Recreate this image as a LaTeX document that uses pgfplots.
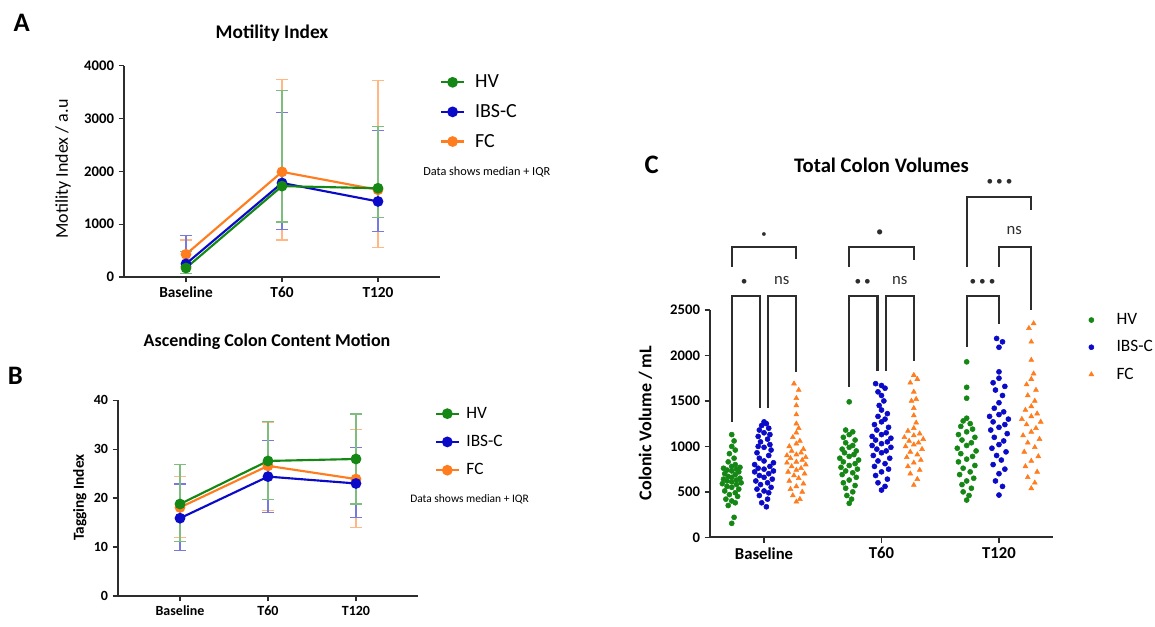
\documentclass[border=0pt]{standalone}
\usepackage{pgfplots}
\pgfplotsset{compat=1.18}
\usepackage{fontspec}
\setmainfont{Carlito}
\definecolor{HVc}{RGB}{20,135,20}
\definecolor{IBSc}{RGB}{10,10,200}
\definecolor{FCc}{RGB}{255,125,30}
\definecolor{axc}{RGB}{45,45,45}
\pgfplotsset{
 panel/.style={
  scale only axis, axis lines=left, axis line style={-, axc, line width=1.3pt},
  tick style={axc, line width=1pt}, tick align=outside, major tick length=4pt,
  xtick={0,1,2}, xticklabels={Baseline,T60,T120},
  /pgf/number format/assume math mode=true, /pgf/number format/1000 sep={},
  scaled y ticks=false, clip=false,
  legend cell align=left,
 },
 eb/.style={error bars/.cd, y dir=both, y explicit,
  error bar style={#1!55, line width=0.9pt},
  error mark options={rotate=90, #1!55, mark size=4.2pt, line width=0.9pt}},
}
\begin{document}
\begin{tikzpicture}
\useasboundingbox (0,0) rectangle (866.25pt,469.5pt);
% ---------------- Panel A ----------------
\node[font=\bfseries\fontsize{20}{22}\selectfont] at (16.3pt,452pt) {A};
\node[font=\bfseries\fontsize{14.5}{16}\selectfont] at (204pt,444.75pt) {Motility Index};
\node[anchor=west, font=\fontsize{9.2}{10}\selectfont, inner sep=0pt] at (317.25pt,340.5pt) {Data shows median + IQR};
\begin{axis}[panel, at={(93pt,261.75pt)}, anchor=south west, width=237pt, height=158.5pt,
 xmin=-0.646, xmax=2.646, ymin=0, ymax=4000, ytick={0,1000,2000,3000,4000},
 ylabel={Motility Index / a.u},
 ylabel style={at={(rel axis cs:-0.193,0.511)}, anchor=center, font=\fontsize{13.5}{14}\selectfont},
 xticklabel style={font=\bfseries\fontsize{11.5}{12}\selectfont},
 yticklabel style={font=\bfseries\fontsize{11}{12}\selectfont},
 legend style={at={(0.987,0.781)}, anchor=west, draw=none, fill=none, font=\fontsize{15}{15}\selectfont, row sep=7pt,
  /tikz/every odd column/.append style={column sep=5.5pt}},
 reverse legend]
\addplot[FCc, line width=1.6pt, mark=*, mark size=3.2pt, eb=FCc] coordinates {
 (0,430) += (0,270) -= (0,230)
 (1,1990) += (0,1754) -= (0,1290)
 (2,1650) += (0,2070) -= (0,1090)};
\addlegendentry{FC}
\addplot[IBSc, line width=1.6pt, mark=*, mark size=3.2pt, eb=IBSc] coordinates {
 (0,250) += (0,540) -= (0,190)
 (1,1780) += (0,1330) -= (0,877)
 (2,1430) += (0,1340) -= (0,572)};
\addlegendentry{IBS-C}
\addplot[HVc, line width=1.6pt, mark=*, mark size=3.2pt, eb=HVc] coordinates {
 (0,170) += (0,310) -= (0,110)
 (1,1720) += (0,1810) -= (0,680)
 (2,1680) += (0,1170) -= (0,550)};
\addlegendentry{HV}
\end{axis}
% ---------------- Panel B ----------------
\node[font=\bfseries\fontsize{20}{22}\selectfont] at (11.6pt,187.5pt) {B};
\node[font=\bfseries\fontsize{13.5}{15}\selectfont] at (200.25pt,213pt) {Ascending Colon Content Motion};
\node[anchor=west, font=\fontsize{8.6}{10}\selectfont, inner sep=0pt] at (307.5pt,95.25pt) {Data shows median + IQR};
\begin{axis}[panel, at={(88.5pt,22.5pt)}, anchor=south west, width=225pt, height=146.8pt,
 xmin=-0.705, xmax=2.705, ymin=0, ymax=40, ytick={0,10,20,30,40},
 ylabel={Tagging Index},
 ylabel style={at={(rel axis cs:-0.127,0.503)}, anchor=center, font=\bfseries\fontsize{11.5}{12}\selectfont},
 xticklabel style={font=\bfseries\fontsize{10.5}{12}\selectfont},
 yticklabel style={font=\bfseries\fontsize{10.5}{12}\selectfont},
 legend style={at={(1.042,0.787)}, anchor=west, draw=none, fill=none, font=\fontsize{13}{13}\selectfont, row sep=7.3pt,
  /tikz/every odd column/.append style={column sep=3pt}},
 reverse legend]
\addplot[FCc, line width=1.6pt, mark=*, mark size=3.2pt, eb=FCc] coordinates {
 (0,18.1) += (0,6.3) -= (0,6.1)
 (1,26.6) += (0,8.9) -= (0,9.2)
 (2,23.9) += (0,10.1) -= (0,9.9)};
\addlegendentry{FC}
\addplot[IBSc, line width=1.6pt, mark=*, mark size=3.2pt, eb=IBSc] coordinates {
 (0,15.9) += (0,7.0) -= (0,6.6)
 (1,24.4) += (0,7.4) -= (0,7.3)
 (2,23.0) += (0,7.3) -= (0,7.0)};
\addlegendentry{IBS-C}
\addplot[HVc, line width=1.6pt, mark=*, mark size=3.2pt, eb=HVc] coordinates {
 (0,18.8) += (0,8.0) -= (0,7.7)
 (1,27.6) += (0,8.0) -= (0,7.8)
 (2,28.0) += (0,9.2) -= (0,9.2)};
\addlegendentry{HV}
\end{axis}
% ---------------- Panel C ----------------
\node[font=\bfseries\fontsize{20}{22}\selectfont] at (488.8pt,345.75pt) {C};
\node[font=\bfseries\fontsize{15.5}{17}\selectfont] at (661.1pt,345.75pt) {Total Colon Volumes};
\begin{axis}[panel, at={(532.5pt,66.5pt)}, anchor=south west, width=257.25pt, height=170.5pt,
 xmin=-0.46, xmax=2.46, ymin=0, ymax=2500, ytick={0,500,1000,1500,2000,2500},
 ylabel={Colonic Volume / mL},
 ylabel style={at={(rel axis cs:-0.188,0.503)}, anchor=center, font=\bfseries\fontsize{13.5}{14}\selectfont},
 xticklabel style={font=\bfseries\fontsize{12.5}{13}\selectfont},
 yticklabel style={font=\bfseries\fontsize{11}{12}\selectfont},
 legend style={at={(1.092,0.836)}, anchor=west, draw=none, fill=none, font=\fontsize{13}{13}\selectfont, row sep=6.5pt,
  /tikz/every odd column/.append style={column sep=15pt}}]
% Baseline
\addplot[only marks, mark=*, mark size=1.9pt, HVc] table[x expr={\thisrow{d}-0.275}, y=y] {
d y
0 154
0.02 220
-0.03 350
0.03 380
0 400
-0.05 420
0.05 450
-0.02 470
0.03 490
-0.06 510
0.06 530
0 550
-0.04 560
0.04 580
-0.08 590
0.08 600
0 610
-0.04 620
0.04 630
-0.07 640
0.07 650
0 660
-0.03 670
0.03 690
-0.06 700
0.06 720
0 730
-0.04 740
0.04 750
-0.07 760
0.07 770
0 780
0.03 800
-0.03 830
0.02 870
-0.02 920
0.03 960
0 1000
0.02 1060
0 1130
};
\addlegendentry{HV}
\addplot[only marks, mark=*, mark size=1.9pt, IBSc] table[x expr={\thisrow{d}}, y=y] {
d y
0.02 336
-0.02 380
0.03 420
-0.04 460
0.04 490
0 510
-0.06 530
0.06 550
-0.03 580
0.03 600
-0.07 620
0.07 640
0 660
-0.04 680
0.04 700
-0.08 720
0.08 730
0 750
-0.05 760
0.05 780
-0.08 800
0.08 820
0 840
-0.04 870
0.04 900
-0.06 930
0.06 960
0 990
-0.05 1000
0.05 1020
-0.03 1050
0.03 1080
-0.05 1110
0.05 1130
0 1150
-0.04 1180
0.04 1200
-0.02 1230
0.02 1250
0 1270
};
\addlegendentry{IBS-C}
\addplot[only marks, mark=triangle*, mark size=2.1pt, FCc] table[x expr={\thisrow{d}+0.275}, y=y] {
d y
0 391
0.03 420
-0.03 460
0.05 500
-0.05 530
0 560
0.06 590
-0.06 620
0.02 650
-0.02 680
0.07 700
-0.07 720
0 740
0.04 760
-0.04 780
0.08 800
-0.08 820
0 830
0.05 850
-0.05 870
0.08 880
-0.08 900
0 910
0.04 930
-0.04 950
0.06 970
-0.06 1000
0 1030
0.03 1060
-0.03 1100
0 1150
0.02 1200
0 1250
0 1350
0 1450
0 1530
0.02 1620
-0.02 1690
};
\addlegendentry{FC}
% T60
\addplot[only marks, mark=*, mark size=1.9pt, HVc, forget plot] table[x expr={\thisrow{d}+0.725}, y=y] {
d y
0 374
0.02 420
-0.02 460
0.03 500
-0.03 540
0.05 570
-0.05 600
0 630
0.06 660
-0.06 690
0.03 710
-0.03 730
0.07 750
-0.07 770
0 790
0.05 810
-0.05 830
0.08 850
-0.08 870
0 890
0.04 910
-0.04 930
0.06 950
-0.06 970
0 990
0.03 1010
-0.03 1040
0.05 1070
-0.05 1100
0 1130
0.03 1160
-0.03 1180
0 1490
};
\addplot[only marks, mark=*, mark size=1.9pt, IBSc, forget plot] table[x expr={\thisrow{d}+1}, y=y] {
d y
0 520
0.03 560
-0.03 600
0.05 640
-0.05 680
0 720
0.06 750
-0.06 780
0.03 810
-0.03 840
0.07 870
-0.07 900
0 930
0.04 950
-0.04 970
0.08 990
-0.08 1010
0 1030
0.05 1050
-0.05 1070
0.08 1090
-0.08 1110
0 1130
0.04 1150
-0.04 1180
0.06 1210
-0.06 1240
0 1270
0.03 1300
-0.03 1330
0.05 1360
0 1400
-0.02 1450
0.02 1500
0 1560
-0.03 1600
0.03 1640
0 1670
-0.05 1690
};
\addplot[only marks, mark=triangle*, mark size=2.1pt, FCc, forget plot] table[x expr={\thisrow{d}+1.275}, y=y] {
d y
0 575
0.03 640
-0.03 700
0.05 740
-0.05 780
0 820
0.06 850
-0.06 880
0.03 910
-0.03 940
0.07 970
-0.07 1000
0 1020
0.04 1040
-0.04 1060
0.08 1080
-0.08 1100
0 1120
0.05 1140
-0.05 1170
0 1200
0.02 1260
0 1340
0 1420
-0.02 1500
0.02 1520
0 1600
-0.03 1700
0.03 1740
0 1784
};
% T120
\addplot[only marks, mark=*, mark size=1.9pt, HVc, forget plot] table[x expr={\thisrow{d}+1.725}, y=y] {
d y
0 410
0.02 460
-0.03 500
0.04 540
-0.04 580
0 620
0.06 650
-0.06 690
0.03 720
-0.03 760
0.07 790
-0.07 830
0 860
0.05 890
-0.05 920
0.08 950
-0.08 980
0 1010
0.04 1040
-0.04 1070
0.07 1100
-0.07 1130
0 1160
0.05 1190
-0.05 1220
0.03 1250
-0.03 1280
0 1310
0 1530
0 1650
0 1930
};
\addplot[only marks, mark=*, mark size=1.9pt, IBSc, forget plot] table[x expr={\thisrow{d}+2}, y=y] {
d y
0 465
0.03 560
-0.03 620
0 700
0.05 750
-0.05 800
0.02 850
-0.02 900
0.06 940
-0.06 980
0 1020
0.04 1060
-0.04 1100
0.07 1140
-0.07 1180
0 1210
0.05 1240
-0.05 1270
0.08 1300
-0.08 1330
0 1350
0.04 1380
-0.04 1420
0 1480
0.03 1560
-0.03 1620
0.05 1660
-0.05 1700
0 1750
0 1820
0 2090
0.03 2150
-0.02 2187
};
\addplot[only marks, mark=triangle*, mark size=2.1pt, FCc, forget plot] table[x expr={\thisrow{d}+2.275}, y=y] {
d y
0 538
0.03 600
-0.03 660
0.05 720
-0.05 780
0 840
0.06 890
-0.06 940
0.03 990
-0.03 1040
0.07 1080
-0.07 1120
0 1160
0.04 1200
-0.04 1240
0.08 1270
-0.08 1300
0 1330
0.05 1360
-0.05 1400
0 1440
0.03 1500
-0.03 1560
0.04 1620
-0.04 1680
0 1740
0.02 1800
0 1950
0 2150
-0.02 2300
0.02 2352
};
% significance brackets
\begin{scope}[axc, line width=1.6pt]
\draw (axis cs:-0.275,2974) -- (axis cs:-0.275,3193) -- (axis cs:0.275,3193) -- (axis cs:0.275,3058);
\draw (axis cs:-0.275,1270) -- (axis cs:-0.275,2652) -- (axis cs:-0.035,2652) -- (axis cs:-0.035,1421);
\draw (axis cs:0.035,1421) -- (axis cs:0.035,2652) -- (axis cs:0.275,2652) -- (axis cs:0.275,1820);
\draw (axis cs:0.725,2974) -- (axis cs:0.725,3193) -- (axis cs:1.275,3193) -- (axis cs:1.275,3055);
\draw (axis cs:0.725,1655) -- (axis cs:0.725,2652) -- (axis cs:0.966,2652) -- (axis cs:0.966,1830);
\draw (axis cs:1.037,1830) -- (axis cs:1.037,2652) -- (axis cs:1.275,2652) -- (axis cs:1.275,1940);
\draw (axis cs:1.725,2974) -- (axis cs:1.725,3743) -- (axis cs:2.275,3743) -- (axis cs:2.275,3597);
\draw (axis cs:2.0,2974) -- (axis cs:2.0,3193) -- (axis cs:2.275,3193) -- (axis cs:2.275,2498);
\draw (axis cs:1.725,2094) -- (axis cs:1.725,2652) -- (axis cs:2.0,2652) -- (axis cs:2.0,2344);
\end{scope}
\node[axc, font=\fontsize{8}{8}\selectfont] at (axis cs:0,3322) {\textbullet};
\node[axc, font=\fontsize{10}{10}\selectfont] at (axis cs:-0.17,2798) {\textbullet};
\node[axc, font=\fontsize{12.5}{13}\selectfont] at (axis cs:0.15,2828) {ns};
\node[axc, font=\fontsize{11}{11}\selectfont] at (axis cs:0.986,3347) {\textbullet};
\node[axc, font=\fontsize{10}{10}\selectfont] at (axis cs:0.84,2798) {\textbullet\ \textbullet};
\node[axc, font=\fontsize{12.5}{13}\selectfont] at (axis cs:1.155,2828) {ns};
\node[axc, font=\fontsize{10}{10}\selectfont] at (axis cs:2.005,3901) {\textbullet\ \textbullet\ \textbullet};
\node[axc, font=\fontsize{12.5}{13}\selectfont] at (axis cs:2.13,3377) {ns};
\node[axc, font=\fontsize{10}{10}\selectfont] at (axis cs:1.86,2798) {\textbullet\ \textbullet\ \textbullet};
\end{axis}
\end{tikzpicture}
\end{document}
